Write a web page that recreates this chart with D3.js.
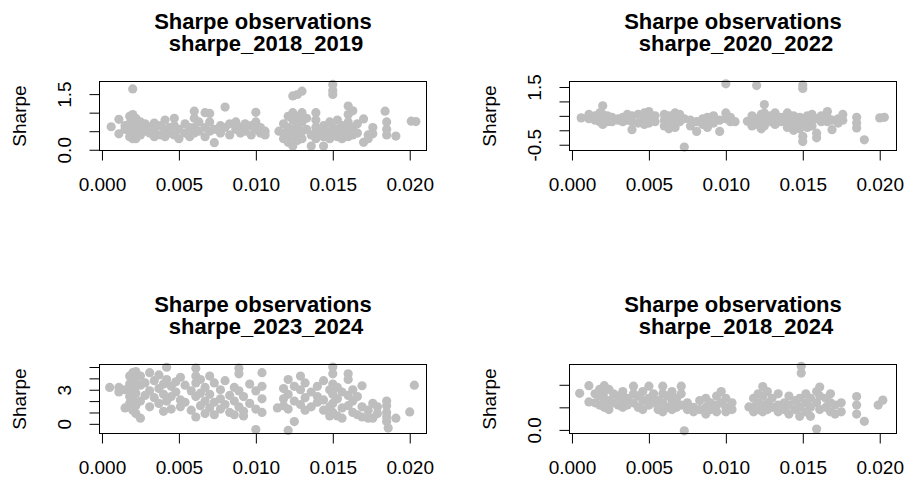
<!DOCTYPE html>
<html>
<head>
<meta charset="utf-8">
<script src="https://cdn.jsdelivr.net/npm/d3@7"></script>
<style>
  body { margin: 0; background: #fff; }
  text { font-family: "Liberation Sans", Arial, sans-serif; fill: #000; }
</style>
</head>
<body>
<svg id="chart" width="906" height="483"></svg>
<script>
// each entry: [x, [sharpe values observed at that x]]
const sharpe_2018_2019 = [
  [0.0006, [0.62]], [0.0011, [0.82, 0.43]], [0.0015, [0.65, 0.55]],
  [0.0018, [0.9, 0.7, 0.5, 0.35]], [0.0020, [1.64, 0.95, 0.8, 0.6, 0.45, 0.3]],
  [0.0022, [0.85, 0.65, 0.5, 0.3]], [0.0025, [0.75, 0.55, 0.4]], [0.0028, [0.7, 0.5]],
  [0.0031, [0.62, 0.45]], [0.0034, [0.72, 0.5, 0.35]], [0.0038, [0.65, 0.4]],
  [0.0041, [0.8, 0.55, 0.35]], [0.0044, [0.6, 0.45]], [0.0047, [0.85, 0.65, 0.4]],
  [0.0050, [0.55, 0.3]], [0.0054, [0.7, 0.45]], [0.0057, [0.6, 0.35]],
  [0.0060, [1.04, 0.85, 0.6, 0.45]], [0.0063, [0.75, 0.5]], [0.0067, [1.0, 0.6, 0.35]],
  [0.0070, [0.98, 0.75, 0.5]], [0.0073, [0.19, 0.55]], [0.0077, [0.65, 0.45]],
  [0.0080, [1.15, 0.6]], [0.0083, [0.7, 0.4]], [0.0087, [0.75, 0.55]],
  [0.0090, [0.6, 0.45]], [0.0093, [0.7, 0.5]], [0.0097, [0.65, 0.4]],
  [0.0100, [1.01, 0.75, 0.55]], [0.0103, [0.6, 0.45]], [0.0106, [0.5, 0.4]],
  [0.0115, [0.5]], [0.0118, [0.7, 0.45, 0.3]], [0.0121, [0.9, 0.6, 0.4, 0.2]],
  [0.0124, [1.45, 1.0, 0.8, 0.55, 0.35, 0.1]], [0.0127, [1.49, 0.9, 0.65, 0.45, 0.25]],
  [0.0130, [1.58, 1.0, 0.75, 0.5, 0.3]], [0.0133, [0.85, 0.55]], [0.0136, [0.4, 0.1]],
  [0.0139, [1.0, 0.8, 0.6, 0.45, 0.3]], [0.0144, [0.65, 0.5, 0.35, 0.1]],
  [0.0148, [0.75, 0.5, 0.3]], [0.0150, [1.76, 1.6, 1.49, 0.6, 0.4]],
  [0.0153, [0.8, 0.55, 0.35]], [0.0156, [0.65, 0.45, 0.3]],
  [0.0160, [1.18, 0.95, 0.75, 0.55, 0.35]], [0.0163, [1.05, 0.6, 0.4]],
  [0.0166, [0.7, 0.45]], [0.0170, [0.83, 0.2]], [0.0173, [0.4, 0.3]],
  [0.0176, [0.6, 0.43]], [0.0184, [1.04]], [0.0185, [0.75, 0.55, 0.4]],
  [0.0191, [0.37]], [0.0201, [0.77]], [0.0204, [0.76]]
]

const sharpe_2020_2022 = [
  [0.0006, [0.43]], [0.0011, [0.55, 0.4]], [0.0015, [0.5, 0.35]],
  [0.0018, [0.6, 0.4, 0.3]], [0.0020, [0.85, 0.55, 0.35, 0.2]], [0.0023, [0.5, 0.3]],
  [0.0026, [0.45, 0.3]], [0.0030, [0.4, 0.35]], [0.0033, [0.45, 0.3]],
  [0.0036, [0.55, 0.35]], [0.0039, [0.5, 0.3, 0.02]], [0.0043, [0.55, 0.25]],
  [0.0047, [0.6, 0.4, 0.2]], [0.0050, [0.65, 0.45, 0.25]], [0.0054, [0.5, 0.3]],
  [0.0060, [0.55, 0.35, 0.15]], [0.0063, [0.5, 0.2, 0.05]], [0.0067, [0.6, 0.35, 0.1]],
  [0.0070, [0.55, 0.3]], [0.0073, [-0.58, 0.4]], [0.0077, [0.35, 0.15]],
  [0.0081, [0.3, -0.04]], [0.0085, [0.4, 0.2]], [0.0088, [0.45, 0.3, 0.1]],
  [0.0092, [0.5, 0.25]], [0.0096, [0.35, -0.04]], [0.0100, [1.61, 0.6, 0.4]],
  [0.0103, [0.45, 0.3]], [0.0106, [0.3]], [0.0114, [0.31]],
  [0.0117, [0.5, 0.3, 0.15]], [0.0120, [1.55, 0.4, 0.2]], [0.0123, [0.55, 0.3, 0.05]],
  [0.0125, [0.89, 0.6, 0.35, 0.15]], [0.0129, [0.5, 0.3]], [0.0132, [0.6, 0.4, 0.2]],
  [0.0136, [0.45, 0.3]], [0.0140, [0.6, 0.35, 0.1]], [0.0144, [0.5, 0.25, 0.0]],
  [0.0148, [0.45, 0.3, 0.05]], [0.0150, [1.57, 1.45, 0.4, 0.2, -0.21, -0.39]],
  [0.0153, [0.5, 0.3, 0.1]], [0.0156, [0.55, 0.35, 0.15]], [0.0159, [0.4, -0.1, -0.26]],
  [0.0162, [0.5, 0.3]], [0.0166, [0.65, 0.45, 0.3]], [0.0169, [0.35, 0.02]],
  [0.0173, [0.4, 0.25]], [0.0176, [0.55, 0.35]], [0.0185, [0.45, 0.25, 0.08]],
  [0.0190, [-0.33]], [0.0200, [0.43]], [0.0203, [0.45]]
]

const sharpe_2023_2024 = [
  [0.0005, [3.2]], [0.0011, [3.2, 2.8]], [0.0015, [3.0, 1.4]],
  [0.0018, [4.2, 3.5, 2.4, 1.8]], [0.0020, [4.5, 3.8, 3.0, 2.2, 1.2]],
  [0.0022, [4.6, 4.0, 3.3, 2.7, 1.6, 0.9]], [0.0025, [4.2, 3.4, 2.0, 0.5]],
  [0.0028, [3.6, 2.5]], [0.0031, [4.5, 2.9, 1.5]], [0.0034, [3.8, 2.3]],
  [0.0037, [4.3, 3.1, 1.8]], [0.0040, [3.5, 2.6, 1.1]], [0.0042, [4.98, 3.9, 2.0]],
  [0.0045, [3.3, 2.4, 1.3]], [0.0048, [3.7, 2.8]], [0.0051, [4.1, 2.1, 1.5]],
  [0.0054, [3.4, 1.9]], [0.0058, [2.9, 1.2]], [0.0061, [4.9, 4.2, 3.6, 2.4, 0.6]],
  [0.0064, [3.9, 2.7, 1.6]], [0.0067, [3.2, 2.0, 0.9]], [0.0070, [4.2, 2.6, 1.4]],
  [0.0073, [3.6, 1.9, 0.8]], [0.0077, [3.0, 2.2, 1.3]], [0.0080, [3.8, 1.7]],
  [0.0083, [2.5, 1.0]], [0.0086, [3.2, 2.0, 0.8]], [0.0089, [4.9, 4.4, 2.9, 1.5]],
  [0.0092, [2.4, 1.1, 0.7]], [0.0096, [3.5, 1.8]], [0.0100, [2.9, 1.3, -0.5]],
  [0.0104, [4.5, 3.3, 2.2, 1.0]], [0.0114, [1.4]], [0.0118, [3.1, 2.2, 1.6]],
  [0.0121, [3.9, 2.6, 1.3, -0.58]], [0.0125, [3.3, 2.0, 0.2]], [0.0129, [4.2, 3.0, 1.7]],
  [0.0132, [3.6, 2.3, 1.2]], [0.0136, [2.8, 1.5]], [0.0140, [3.3, 2.4, 1.9]],
  [0.0144, [3.8, 2.1, 1.2]], [0.0148, [3.0, 1.5, 0.7]],
  [0.0150, [5.0, 4.4, 3.5, 2.6, 1.8, 1.0]], [0.0153, [3.2, 2.2, 0.7]],
  [0.0156, [2.8, 1.4, 0.5]], [0.0160, [4.4, 3.9, 2.5, 1.6]], [0.0163, [3.0, 2.0, 1.0]],
  [0.0166, [2.4, 0.8]], [0.0169, [3.35, 1.5, 0.6]], [0.0173, [1.2, 0.5]],
  [0.0176, [1.8, 0.5]], [0.0179, [1.5, 0.9]], [0.0185, [2.0, 1.6, 1.0, 0.6, 0.2]],
  [0.0186, [-0.37]], [0.0191, [0.5]], [0.0200, [1.05]], [0.0203, [3.4]]
]

const sharpe_2018_2024 = [
  [0.0005, [0.81]], [0.0011, [0.98, 0.62]], [0.0015, [0.8, 0.6]],
  [0.0018, [0.9, 0.75, 0.55]], [0.0021, [0.98, 0.85, 0.7, 0.5]], [0.0024, [0.9, 0.65, 0.45]],
  [0.0027, [0.8, 0.6]], [0.0030, [0.75, 0.55]], [0.0033, [0.85, 0.65, 0.5]],
  [0.0036, [0.7, 0.55]], [0.0040, [0.97, 0.8, 0.6]], [0.0043, [0.75, 0.5]],
  [0.0046, [0.85, 0.65, 0.45]], [0.0050, [0.97, 0.7, 0.55]], [0.0053, [0.8, 0.6]],
  [0.0056, [0.65, 0.45]], [0.0059, [0.97, 0.8, 0.6, 0.4]], [0.0062, [0.75, 0.5]],
  [0.0065, [0.85, 0.65, 0.45]], [0.0068, [0.7, 0.5]], [0.0071, [0.97, 0.8, 0.55]],
  [0.0073, [-0.02]], [0.0075, [0.6, 0.45]], [0.0079, [0.5, 0.4]], [0.0083, [0.65, 0.45]],
  [0.0087, [0.7, 0.5, 0.35]], [0.0090, [0.6, 0.45]], [0.0094, [0.75, 0.55, 0.4]],
  [0.0097, [0.85, 0.6]], [0.0100, [0.7, 0.5, 0.4]], [0.0104, [0.6, 0.45]],
  [0.0115, [0.51]], [0.0118, [0.7, 0.5, 0.4]], [0.0121, [0.8, 0.6, 0.45]],
  [0.0124, [0.96, 0.75, 0.55, 0.4]], [0.0127, [0.85, 0.6, 0.45]], [0.0130, [0.7, 0.5]],
  [0.0134, [0.8, 0.55, 0.4]], [0.0138, [0.6, 0.45]], [0.0141, [0.75, 0.55, 0.35]],
  [0.0145, [0.65, 0.45]], [0.0148, [0.7, 0.5, 0.3]], [0.0149, [1.41, 1.26]],
  [0.0152, [0.8, 0.6, 0.4]], [0.0155, [0.7, 0.5, 0.3]], [0.0159, [0.85, 0.6, 0.02]],
  [0.0161, [0.95, 0.75, 0.45]], [0.0165, [0.7, 0.5]], [0.0168, [0.8, 0.6, 0.4]],
  [0.0171, [0.55, 0.35]], [0.0175, [0.6, 0.4]], [0.0185, [0.74, 0.55, 0.35]],
  [0.0190, [0.19]], [0.0199, [0.55]], [0.0202, [0.66]]
]

const panelNames = ['sharpe_2018_2019', 'sharpe_2020_2022', 'sharpe_2023_2024', 'sharpe_2018_2024']
const panelData = [sharpe_2018_2019, sharpe_2020_2022, sharpe_2023_2024, sharpe_2018_2024]
const yDomains = [[-0.02, 1.84], [-0.7, 1.69], [-0.85, 5.22], [-0.08, 1.45]]
const yTicks = [[0, 0.5, 1, 1.5], [-0.5, 0, 0.5, 1, 1.5], [0, 1, 2, 3, 4, 5], [0, 0.5, 1]]
const yTickLabels = [['0.0', '', '', '1.5'], ['-0.5', '', '', '', '1.5'], ['0', '', '', '3', '', ''], ['0.0', '', '']]
const xTicks = [0, 0.005, 0.01, 0.015, 0.02]
const xDomain = [-0.00016, 0.02109]

const svg = d3.select('#chart')
const boxW = 327
const boxH = 69
const colLeft = [99.5, 569.5]
const rowTop = [81.5, 364.5]
const formatX = d3.format('.3f')

const buildPanel = (i) => {
  const left = colLeft[i % 2]
  const top = rowTop[Math.floor(i / 2)]
  const x = d3.scaleLinear().domain(xDomain).range([left, left + boxW])
  const y = d3.scaleLinear().domain(yDomains[i]).range([top + boxH, top])
  const g = svg.append('g').attr('class', 'panel')

  const points = panelData[i].flatMap(([px, ys]) => ys.map(v => ({ x: px, y: v })))
  g.selectAll('circle.pt').data(points)
    .enter().append('circle')
    .attr('class', 'pt')
    .attr('cx', d => x(d.x))
    .attr('cy', d => y(d.y))
    .attr('r', 4.6)
    .attr('fill', '#bebebe')

  g.append('rect')
    .attr('x', left).attr('y', top)
    .attr('width', boxW).attr('height', boxH)
    .attr('fill', 'none').attr('stroke', '#000').attr('stroke-width', 1)

  const xAxis = g.append('g')
    .attr('transform', `translate(0, ${top + boxH})`)
    .call(d3.axisBottom(x).tickValues(xTicks).tickFormat(formatX).tickSize(10).tickSizeOuter(0).tickPadding(17.5))
  xAxis.select('.domain').remove()
  xAxis.selectAll('line').attr('stroke', '#000')
  xAxis.selectAll('text').style('font-size', '19px').style('font-family', '"Liberation Sans", Arial, sans-serif')

  const labels = yTickLabels[i]
  const yAxis = g.append('g')
    .attr('transform', `translate(${left}, 0)`)
    .call(d3.axisLeft(y).tickValues(yTicks[i]).tickFormat((d, k) => labels[k]).tickSize(10).tickSizeOuter(0))
  yAxis.select('.domain').remove()
  yAxis.selectAll('line').attr('stroke', '#000')
  yAxis.selectAll('text')
    .attr('x', 0).attr('dy', null).attr('y', -28.6)
    .attr('transform', 'rotate(-90)')
    .style('text-anchor', 'middle')
    .style('font-size', '19px')
    .style('font-family', '"Liberation Sans", Arial, sans-serif')

  g.append('text')
    .attr('transform', `translate(${left - 74}, ${top + boxH / 2}) rotate(-90)`)
    .attr('text-anchor', 'middle')
    .style('font-size', '19px')
    .text('Sharpe')

  const cx = left + boxW / 2
  g.append('text')
    .attr('x', cx).attr('y', top - 53)
    .attr('text-anchor', 'middle')
    .style('font-size', '22px').style('font-weight', 'bold')
    .text('Sharpe observations')
  g.append('text')
    .attr('x', cx).attr('y', top - 30.5)
    .attr('text-anchor', 'middle')
    .attr('xml:space', 'preserve')
    .style('white-space', 'pre')
    .style('font-size', '22px').style('font-weight', 'bold')
    .text(' ' + panelNames[i])
}

panelNames.forEach((_, i) => buildPanel(i))
</script>
</body>
</html>
